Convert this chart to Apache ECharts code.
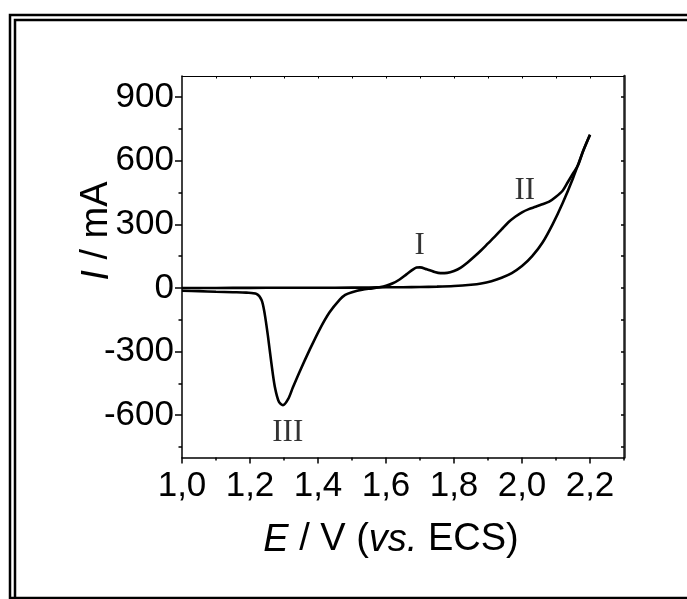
<!DOCTYPE html>
<html>
<head>
<meta charset="utf-8">
<title>Cyclic voltammogram</title>
<script src="https://cdn.jsdelivr.net/npm/echarts@6/dist/echarts.min.js"></script>
<style>
  html, body { margin: 0; padding: 0; background: #fff; }
  #chart { width: 687px; height: 599px; }
</style>
</head>
<body>
<div id="chart"></div>
<script>
// Anodic (forward) sweep: potential E (V vs. ECS) and current I (mA)
const forwardE = [1.00, 1.10, 1.20, 1.30, 1.40, 1.50, 1.55, 1.60, 1.65, 1.70, 1.75, 1.80, 1.85, 1.88,
                  1.91, 1.94, 1.97, 2.00, 2.03, 2.06, 2.09, 2.12, 2.15, 2.18, 2.20];
const forwardI = [0, 0, 0.5, 1, 1, 1.5, 2, 3, 3.5, 4.5, 6, 9, 15, 21,
                  32, 48, 70, 103, 150, 213, 300, 402, 518, 646, 723];

// Cathodic (reverse) sweep
const reverseE = [2.20, 2.18, 2.165, 2.15, 2.135, 2.12, 2.10, 2.08, 2.06, 2.04, 2.02, 2.00, 1.98, 1.96,
                  1.94, 1.92, 1.90, 1.88, 1.86, 1.84, 1.82, 1.80, 1.78, 1.76, 1.74, 1.72, 1.70, 1.69,
                  1.68, 1.66, 1.64, 1.62, 1.60, 1.58, 1.56, 1.53, 1.50, 1.48, 1.464, 1.434, 1.405, 1.376,
                  1.346, 1.326, 1.312, 1.297, 1.285, 1.273, 1.263, 1.253, 1.243, 1.234, 1.219, 1.189,
                  1.15, 1.10, 1.05, 1.00];
const reverseI = [723, 648, 580, 540, 500, 460, 430, 407, 395, 383, 372, 357, 336, 310,
                  276, 242, 210, 178, 148, 120, 96, 80, 71, 70, 77, 88, 97, 96,
                  88, 64, 40, 22, 10, 3, -2, -8, -20, -33, -55, -115, -195, -290,
                  -395, -470, -525, -553, -537, -466, -356, -230, -120, -57, -28, -22,
                  -20, -18, -15, -13];

// Peak annotations
const peakNames = ['I', 'II', 'III'];
const peakE = [1.699, 2.008, 1.311];
const peakI = [198, 460, -685];

// Axis ticks
const xMajor = [1.0, 1.2, 1.4, 1.6, 1.8, 2.0, 2.2];
const xMinor = [1.1, 1.3, 1.5, 1.7, 1.9, 2.1, 2.3];
const xTop = [1.1, 1.2, 1.3, 1.4, 1.5, 1.6, 1.7, 1.8, 1.9, 2.0, 2.1, 2.2];
const yMajor = [-600, -300, 0, 300, 600, 900];
const yMinor = [-750, -450, -150, 150, 450, 750];
const yRight = [-750, -600, -450, -300, -150, 0, 150, 300, 450, 600, 750, 900];

const zip = (a, b) => a.map((v, i) => [v, b[i]]);

const SANS = "'Liberation Sans', Arial, sans-serif";
const SERIF = "'Liberation Serif', 'Times New Roman', serif";
const X_RANGE = { min: 1.0, max: 2.3 };
const Y_RANGE = { min: -800, max: 1000 };

const chart = echarts.init(document.getElementById('chart'), null, { renderer: 'canvas' });

chart.setOption({
  backgroundColor: '#fff',
  animation: false,
  grid: { left: 182, top: 76, right: 63, bottom: 141.5, containLabel: false, outerBoundsMode: 'none' },
  xAxis: [
    {
      type: 'value', position: 'bottom', ...X_RANGE,
      axisLine: { show: true, onZero: false, lineStyle: { color: '#000', width: 1.5 } },
      axisTick: { show: true, inside: false, length: 6, customValues: xMajor, lineStyle: { color: '#000', width: 1.5 } },
      axisLabel: {
        show: true, customValues: xMajor, margin: 11, color: '#000', fontSize: 35, fontFamily: SANS,
        formatter: v => v.toFixed(1).replace('.', ',')
      },
      splitLine: { show: false }
    },
    {
      type: 'value', position: 'bottom', ...X_RANGE,
      axisLine: { show: false, onZero: false },
      axisTick: { show: true, inside: false, length: 3, customValues: xMinor, lineStyle: { color: '#000', width: 1.5 } },
      axisLabel: { show: false },
      splitLine: { show: false }
    },
    {
      type: 'value', position: 'top', ...X_RANGE,
      axisLine: { show: true, onZero: false, lineStyle: { color: '#000', width: 1 } },
      axisTick: { show: true, inside: true, length: 2.5, customValues: xTop, lineStyle: { color: '#000', width: 1 } },
      axisLabel: { show: false },
      splitLine: { show: false }
    }
  ],
  yAxis: [
    {
      type: 'value', position: 'left', ...Y_RANGE,
      axisLine: { show: true, onZero: false, lineStyle: { color: '#000', width: 1.5 } },
      axisTick: { show: true, inside: false, length: 7, customValues: yMajor, lineStyle: { color: '#000', width: 1.5 } },
      axisLabel: {
        show: true, customValues: yMajor, margin: 8, color: '#000', fontSize: 35, fontFamily: SANS,
        formatter: v => String(v)
      },
      splitLine: { show: false }
    },
    {
      type: 'value', position: 'left', ...Y_RANGE,
      axisLine: { show: false, onZero: false },
      axisTick: { show: true, inside: false, length: 3.5, customValues: yMinor, lineStyle: { color: '#000', width: 1.5 } },
      axisLabel: { show: false },
      splitLine: { show: false }
    },
    {
      type: 'value', position: 'right', ...Y_RANGE,
      axisLine: { show: true, onZero: false, lineStyle: { color: '#222', width: 2.5 } },
      axisTick: { show: true, inside: true, length: 3, customValues: yRight, lineStyle: { color: '#000', width: 1.5 } },
      axisLabel: { show: false },
      splitLine: { show: false }
    }
  ],
  series: [
    {
      name: 'forward', type: 'line', xAxisIndex: 0, yAxisIndex: 0,
      data: zip(forwardE, forwardI), showSymbol: false, symbol: 'none', smooth: 0.3,
      lineStyle: { color: '#000', width: 2.6 }, silent: true
    },
    {
      name: 'reverse', type: 'line', xAxisIndex: 0, yAxisIndex: 0,
      data: zip(reverseE, reverseI), showSymbol: false, symbol: 'none', smooth: 0.3,
      lineStyle: { color: '#000', width: 2.6 }, silent: true
    },
    {
      name: 'peaks', type: 'scatter', xAxisIndex: 0, yAxisIndex: 0,
      symbolSize: 0, silent: true,
      data: peakNames.map((n, i) => ({ name: n, value: [peakE[i], peakI[i]] })),
      label: {
        show: true, position: 'inside', formatter: p => p.name,
        color: '#000', fontSize: 31, fontFamily: SERIF
      }
    }
  ],
  graphic: [
    // double frame around the figure
    { type: 'rect', z: 0, silent: true, shape: { x: 10, y: 15, width: 700, height: 583 },
      style: { fill: 'none', stroke: '#000', lineWidth: 2.5 } },
    { type: 'rect', z: 0, silent: true, shape: { x: 15, y: 20, width: 700, height: 600 },
      style: { fill: 'none', stroke: '#000', lineWidth: 2.5 } },
    // axis titles
    { type: 'text', z: 10, silent: true, x: 391, y: 540,
      style: {
        text: '{i|E} / V ({i|vs.} ECS)', textAlign: 'center', textVerticalAlign: 'middle',
        fill: '#000', font: '38px ' + SANS,
        rich: { i: { fontStyle: 'italic', fontSize: 38, fontFamily: SANS, fill: '#000' } }
      } },
    { type: 'text', z: 10, silent: true, x: 97, y: 231, rotation: Math.PI / 2,
      style: {
        text: '{i|I} / mA', textAlign: 'center', textVerticalAlign: 'middle',
        fill: '#000', font: '38px ' + SANS,
        rich: { i: { fontStyle: 'italic', fontSize: 38, fontFamily: SANS, fill: '#000' } }
      } }
  ]
});
</script>
</body>
</html>
